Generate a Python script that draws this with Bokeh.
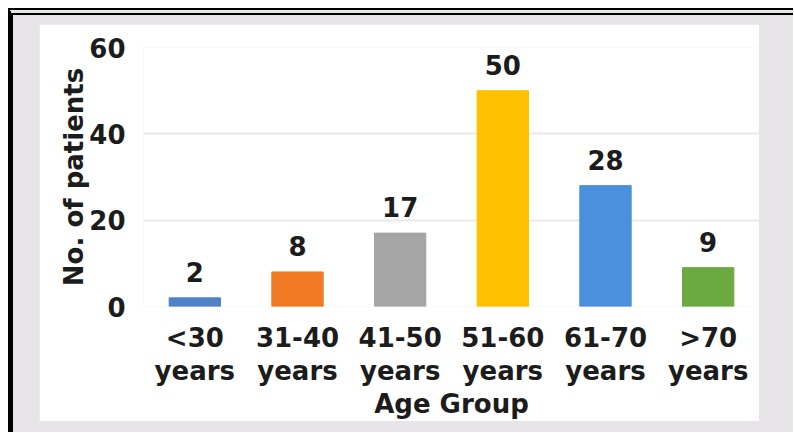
from bokeh.plotting import figure
from bokeh.models import ColumnDataSource, Column, FactorRange
from bokeh.core.properties import value
from bokeh.embed import file_html
from bokeh.resources import INLINE

categories = ["<30\nyears", "31-40\nyears", "41-50\nyears", "51-60\nyears", "61-70\nyears", ">70\nyears"]
patients = [2, 8, 17, 50, 28, 9]
bar_colors = ["#4F81C7", "#F07A24", "#A5A5A5", "#FFC000", "#4A90DC", "#6BAA3E"]
y_ticks = [0, 20, 40, 60]

FONT = "DejaVu Sans"
TXT = "#1c1c1c"

src = ColumnDataSource(dict(cat=categories, val=patients, color=bar_colors,
                            lab=[str(v) for v in patients]))

p = figure(x_range=FactorRange(factors=categories), y_range=(0, 60),
           width=720, height=397, output_backend="svg", toolbar_location=None,
           min_border_left=104, min_border_right=0, min_border_top=23, min_border_bottom=115)
p.background_fill_color = "white"
p.border_fill_color = "white"
p.outline_line_color = None

p.vbar(x="cat", top="val", width=0.5, color="color", source=src)
p.text(x="cat", y="val", text="lab", source=src, text_align="center", text_baseline="alphabetic",
       y_offset=-26, text_font=value(FONT), text_font_style="bold", text_font_size="26px",
       text_color=TXT)

p.yaxis.ticker = y_ticks
p.xgrid.grid_line_color = None
p.ygrid.grid_line_color = "#e9e9e9"
p.ygrid.grid_line_width = 2

for ax in (p.xaxis[0], p.yaxis[0]):
    ax.axis_line_color = None
    ax.major_tick_line_color = None
    ax.minor_tick_line_color = None
    ax.major_label_text_font = FONT
    ax.major_label_text_font_style = "bold"
    ax.major_label_text_font_size = "26px"
    ax.major_label_text_color = TXT
    ax.axis_label_text_font = FONT
    ax.axis_label_text_font_style = "bold"
    ax.axis_label_text_font_size = "26px"
    ax.axis_label_text_color = TXT

p.yaxis.axis_label = "No. of patients"
p.yaxis.major_label_standoff = 12
p.yaxis.axis_label_standoff = -3
p.xaxis.axis_label = "Age Group"
p.xaxis.major_label_standoff = 10
p.xaxis.axis_label_standoff = 0
p.xaxis.major_label_text_line_height = 1.1

layout = Column(children=[p], styles={
    "background-color": "#e7e5e7",
    "border-top": "7px double #000",
    "border-left": "5px solid #000",
    "padding": "9px 34px 11px 26px",
    "margin": "8px 0 0 8px",
})

open("out.html", "w").write(file_html(layout, INLINE))
